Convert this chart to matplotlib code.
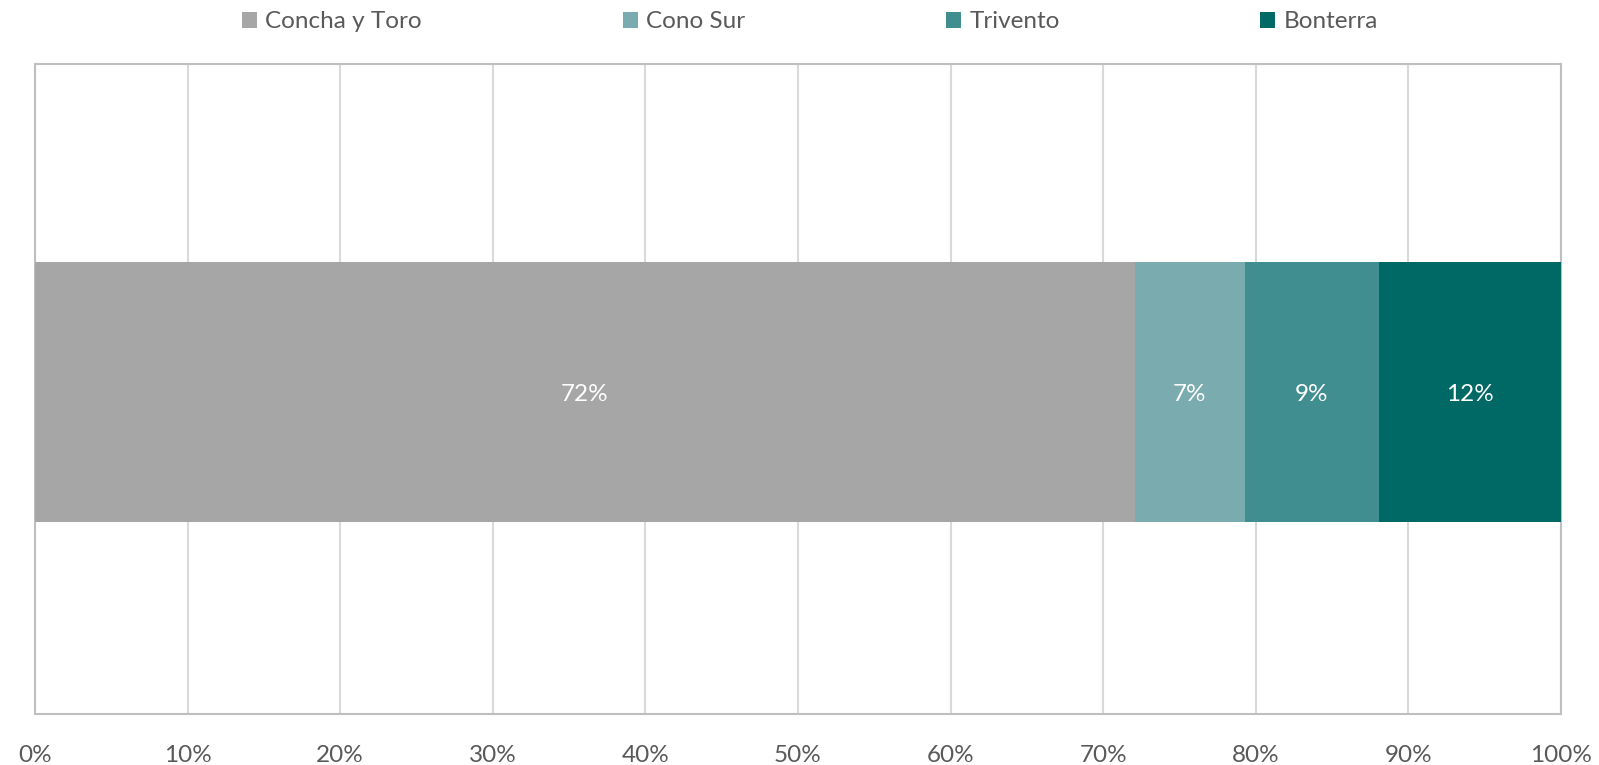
import matplotlib.pyplot as plt
import numpy as np

# data
brands = ['Concha y Toro', 'Cono Sur', 'Trivento', 'Bonterra']
shares = [72.08, 7.21, 8.78, 11.93]  # percent of total
labels = ['72%', '7%', '9%', '12%']
colors = ['#A6A6A6', '#7AACAF', '#408E8F', '#006865']

plt.rcParams['font.family'] = ['Lato', 'DejaVu Sans']

fig = plt.figure(figsize=(15.99, 7.65), dpi=100)
ax = fig.add_axes([35 / 1599, 1 - 714 / 765, (1561 - 35) / 1599, (714 - 64) / 765])

left = 0
for name, val, lab, col in zip(brands, shares, labels, colors):
    ax.barh(0, val, left=left, height=0.5, color=col, label=name, zorder=3)
    ax.text(left + val / 2, -0.005, lab, ha='center', va='center', color='white', fontsize=17.5, zorder=4)
    left += val

ax.set_xlim(0, 100)
ax.set_ylim(-0.619, 0.631)
ax.set_xticks(np.arange(0, 101, 10))
ax.set_xticklabels([f'{t}%' for t in range(0, 101, 10)])
ax.set_yticks([])
ax.tick_params(axis='x', length=0, pad=22, labelsize=17.5, labelcolor='#595959')
ax.grid(axis='x', color='#D9D9D9', linewidth=1.5, zorder=0)
for s in ax.spines.values():
    s.set_color('#BFBFBF')
    s.set_linewidth(1.5)

ax.legend(loc='center', bbox_to_anchor=(810 / 1599, 1 - 22 / 765), bbox_transform=fig.transFigure,
          ncol=4, frameon=False, fontsize=17.5, handlelength=0.62, handleheight=0.62,
          handletextpad=0.35, columnspacing=8.25, labelcolor='#595959')

fig.savefig('out.png', dpi=100)
